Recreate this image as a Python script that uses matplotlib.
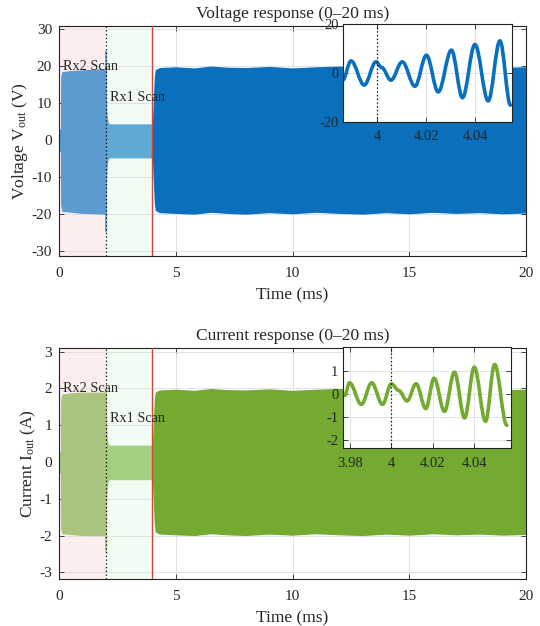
import matplotlib
matplotlib.use("Agg")
import matplotlib.pyplot as plt
from matplotlib.path import Path
from matplotlib.patches import PathPatch

plt.rcParams['font.family'] = ['Liberation Serif', 'DejaVu Serif']
plt.rcParams['mathtext.fontset'] = 'custom'
plt.rcParams['mathtext.rm'] = 'Liberation Serif'
plt.rcParams['mathtext.it'] = 'Liberation Serif:italic'
plt.rcParams['axes.unicode_minus'] = False

# voltage envelope, three segments (Rx2 scan, Rx1 scan, full drive)
v_t1 = [0.0, 0.06, 0.07, 0.12, 0.5, 1.0, 1.5, 1.9, 2.0]
v_up1 = [3.0, 3.0, 17.0, 18.5, 18.8, 19.0, 19.2, 19.3, 19.3]
v_lo1 = [-3.0, -3.0, -17.5, -19.2, -19.5, -19.8, -19.9, -20.0, -20.0]
v_t2 = [2.0, 2.03, 2.06, 2.1, 2.15, 3.0, 4.0]
v_up2 = [19.3, 12.0, 6.5, 5.0, 4.4, 4.4, 4.4]
v_lo2 = [-20.0, -12.5, -7.0, -5.3, -4.8, -4.8, -4.8]
v_t3 = [4.0, 4.02, 4.05, 4.08, 4.12, 4.3, 5, 5.8, 6.5, 7.2, 8, 9, 10, 11, 12, 13, 14, 15, 16, 17, 18, 19, 20]
v_up3 = [4.4, 8, 13, 17, 19, 19.6, 19.8, 19.5, 20, 19.7, 19.6, 19.9, 19.5, 19.8, 20, 19.6, 19.9, 19.5, 19.8, 19.6, 19.9, 19.7, 19.8]
v_lo3 = [-4.8, -8.5, -13, -17, -19, -19.6, -19.8, -20, -19.5, -19.8, -20, -19.6, -19.9, -19.5, -19.8, -20, -19.6, -19.9, -19.5, -19.8, -19.6, -19.9, -19.7]
v_spike = (-24.8, 24.0)

# current envelope
i_t1 = [0.0, 0.06, 0.07, 0.12, 0.5, 1.0, 1.5, 1.9, 2.0]
i_up1 = [0.28, 0.28, 1.7, 1.85, 1.88, 1.9, 1.9, 1.9, 1.9]
i_lo1 = [-0.3, -0.3, -1.8, -1.95, -1.97, -2.0, -2.0, -2.0, -2.0]
i_t2 = [2.0, 2.03, 2.06, 2.1, 2.15, 3.0, 4.0]
i_up2 = [1.9, 1.2, 0.7, 0.52, 0.46, 0.46, 0.46]
i_lo2 = [-2.0, -1.25, -0.75, -0.55, -0.48, -0.48, -0.48]
i_t3 = [4.0, 4.02, 4.05, 4.08, 4.12, 4.3, 5, 5.8, 6.5, 7.2, 8, 9, 10, 11, 12, 13, 14, 15, 16, 17, 18, 19, 20]
i_up3 = [0.46, 0.8, 1.3, 1.7, 1.9, 1.96, 1.98, 1.95, 2.0, 1.97, 1.96, 1.99, 1.95, 1.98, 2.0, 1.96, 1.99, 1.95, 1.98, 1.96, 1.99, 1.97, 1.98]
i_lo3 = [-0.48, -0.85, -1.3, -1.7, -1.9, -1.96, -1.98, -2.0, -1.95, -1.98, -2.0, -1.96, -1.99, -1.95, -1.98, -2.0, -1.96, -1.99, -1.95, -1.98, -1.96, -1.99, -1.97]
i_spike = (-2.45, 1.9)

# zoomed waveform around the switch-over (extrema)
vz_t = [3.9859, 3.9893, 3.9947, 3.9995, 4.0018, 4.0056, 4.0102, 4.0154, 4.0201,
        4.0249, 4.0303, 4.0348, 4.0399, 4.0453, 4.0501, 4.0544]
vz_v = [-3.0, 4.9, -5.0, 4.5, 2.2, -3.0, 4.5, -5.5, 7.2, -7.8, 9.3, -10.2, 11.6, -11.5, 13.1, -13.2]
iz_t = [3.9775, 3.9798, 3.9855, 3.9905, 3.9957, 4.0000, 4.0035, 4.0076, 4.0119, 4.0166,
        4.0206, 4.0256, 4.0304, 4.0353, 4.0400, 4.0454, 4.0498, 4.0557]
iz_v = [-0.07, 0.47, -0.46, 0.47, -0.46, 0.43, 0.14, -0.31, 0.43, -0.64,
        0.67, -0.76, 0.93, -1.04, 1.14, -1.19, 1.26, -1.36]

x_ticks = [0, 5, 10, 15, 20]
v_ticks = [-30, -20, -10, 0, 10, 20, 30]
i_ticks = [-3, -2, -1, 0, 1, 2, 3]

rx2_span = (0, 2)
rx1_span = (2, 4)

blue = ['#5b9bd0', '#5eaad5', '#0a70be']
green = ['#a8c47e', '#a2cf82', '#74aa30']
ink = '#262626'


def style_axes(ax, fs=11, xpad=8):
    ax.tick_params(direction='in', top=True, right=True, length=3.5, width=0.6,
                   labelsize=fs, colors=ink, labelcolor=ink, pad=5)
    ax.tick_params(axis='x', pad=xpad)
    for s in ax.spines.values():
        s.set_linewidth(0.8)
        s.set_color('#222222')
    ax.grid(True, color='#dedede', linewidth=0.6)
    ax.set_axisbelow(True)


def smooth_wave(t, v):
    # cubic segments with flat tangents at each extremum
    verts, codes = [(t[0], v[0])], [Path.MOVETO]
    for (t0, v0), (t1, v1) in zip(zip(t[:-1], v[:-1]), zip(t[1:], v[1:])):
        d = 0.36 * (t1 - t0)
        verts += [(t0 + d, v0), (t1 - d, v1), (t1, v1)]
        codes += [Path.CURVE4] * 3
    return Path(verts, codes)


def draw_panel(ax, segs, colors, spike, yticks, ylim, title, ylabel, rx2_y, rx1_y):
    ax.axvspan(*rx2_span, color='#fdeeee', zorder=0.1, lw=0)
    ax.axvspan(*rx1_span, color='#f3fcf2', zorder=0.1, lw=0)
    for (t, up, lo), c in zip(segs, colors):
        ax.fill_between(t, lo, up, color=c, lw=0, zorder=2)
    ax.vlines(rx2_span[1], spike[0], spike[1], color=colors[0], lw=1.2, zorder=2)
    ax.axvline(rx2_span[1], color='black', ls=(0, (1, 2)), lw=0.9, zorder=3)
    ax.axvline(rx1_span[1], color='#d0463c', lw=1.0, zorder=3)
    ax.set_xlim(0, 20)
    ax.set_ylim(*ylim)
    ax.set_xticks(x_ticks)
    ax.set_yticks(yticks)
    style_axes(ax)
    ax.set_title(title, fontsize=12.5, color=ink, pad=6)
    ax.set_xlabel('Time (ms)', fontsize=12.5, color=ink, labelpad=5)
    ax.set_ylabel(ylabel, fontsize=12.5, color=ink, labelpad=1)
    ax.text(0.15, rx2_y, 'Rx2 Scan', fontsize=10.3, color=ink, va='center', zorder=4)
    ax.text(2.2, rx1_y, 'Rx1 Scan', fontsize=10.3, color=ink, va='center', zorder=4)


def draw_inset(fig, rect, t, v, color, xlim, ylim, xticks, yticks, xlabels, ylabels):
    ax = fig.add_axes(rect, zorder=5)
    ax.set_facecolor('white')
    ax.add_patch(PathPatch(smooth_wave(t, v), fill=False, edgecolor=color, lw=2.6,
                           joinstyle='round', capstyle='round', zorder=2))
    ax.axvline(4, color='black', ls=(0, (1, 2)), lw=0.9, zorder=3)
    ax.set_xlim(*xlim)
    ax.set_ylim(*ylim)
    ax.set_xticks(xticks)
    ax.set_xticklabels(xlabels)
    ax.set_yticks(yticks)
    ax.set_yticklabels(ylabels)
    style_axes(ax, fs=10.5, xpad=6)
    ax.tick_params(axis='y', pad=3)
    return ax


fig = plt.figure(figsize=(5.4, 6.26), dpi=100)

ax1 = fig.add_axes([0.1093, 0.591, 0.8648, 0.3674])
draw_panel(ax1, [(v_t1, v_up1, v_lo1), (v_t2, v_up2, v_lo2), (v_t3, v_up3, v_lo3)], blue, v_spike,
           v_ticks, (-31.3, 30.8), 'Voltage response (0\u201320 ms)',
           'Voltage V$_{\\rm out}$ (V)', 20, 11.6)

ax2 = fig.add_axes([0.1093, 0.0751, 0.8648, 0.369])
draw_panel(ax2, [(i_t1, i_up1, i_lo1), (i_t2, i_up2, i_lo2), (i_t3, i_up3, i_lo3)], green, i_spike,
           i_ticks, (-3.18, 3.1), 'Current response (0\u201320 ms)',
           'Current I$_{\\rm out}$ (A)', 2, 1.18)

draw_inset(fig, [0.6346, 0.8056, 0.313, 0.1561], vz_t, vz_v, blue[2],
           (3.9859, 4.0549), (-20, 20), [4, 4.02, 4.04], [-20, 0, 20],
           ['4', '4.02', '4.04'], ['-20', '0', '20'])
draw_inset(fig, [0.6346, 0.2839, 0.3117, 0.1613], iz_t, iz_v, green[2],
           (3.9765, 4.0577), (-2.35, 2.0), [3.98, 4, 4.02, 4.04], [-2, -1, 0, 1],
           ['3.98', '4', '4.02', '4.04'], ['-2', '-1', '0', '1'])

fig.savefig('out.png', dpi=100)
